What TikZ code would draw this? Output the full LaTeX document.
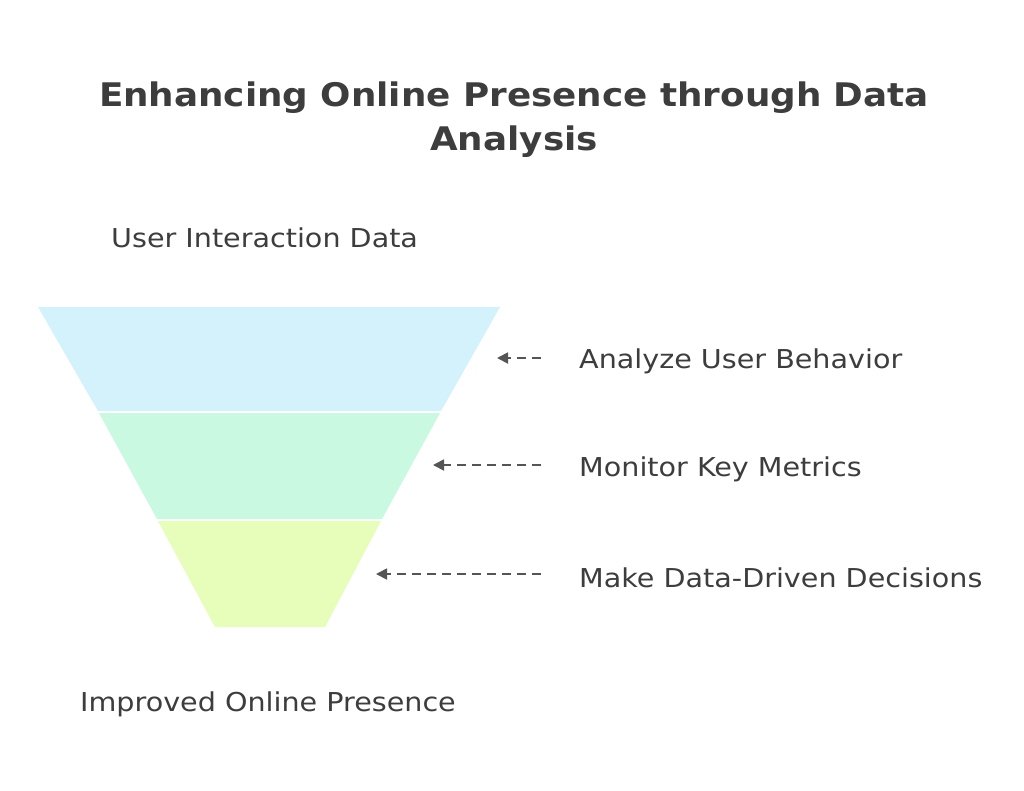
\documentclass[tikz,border=0pt]{standalone}
\usepackage{fontspec}
\setmainfont{DejaVu Sans}[FakeStretch=1.1]
\usetikzlibrary{arrows.meta}
\definecolor{txt}{HTML}{3D3D3D}
\definecolor{arr}{HTML}{555555}
\definecolor{cA}{HTML}{D3F2FC}
\definecolor{cB}{HTML}{C9F9E0}
\definecolor{cC}{HTML}{E7FDBA}
\tikzset{
  lbl/.style={anchor=west,text=txt,font=\fontsize{26}{30}\selectfont,inner sep=0pt},
  conn/.style={draw=arr,line width=1.8pt,dash pattern=on 9pt off 6pt,-{Triangle[length=11pt,width=11pt]}}
}
\begin{document}
\begin{tikzpicture}[x=1pt,y=-1pt]
\useasboundingbox (0,0) rectangle (1024,790);
\fill[white] (0,0) rectangle (1024,790);
\node[text=txt,align=center,font=\bfseries\fontsize{32.5}{44}\selectfont] (title) at (514,120) {Enhancing Online Presence through Data\\Analysis};
\node[lbl] (top) at (111,238) {User Interaction Data};
\node[lbl] (bot) at (80,704) {Improved Online Presence};
\fill[cA] (38,307) -- (500,307) -- (441,411) -- (98,411) -- cycle;
\fill[cB] (99,413) -- (440,413) -- (382,519) -- (157,519) -- cycle;
\fill[cC] (158,521) -- (381,521) -- (325,627) -- (215,627) -- cycle;
\coordinate (a1) at (497,358);
\coordinate (a2) at (433,465);
\coordinate (a3) at (376,574);
\node[lbl] (l1) at (579,361) {Analyze User Behavior};
\node[lbl] (l2) at (579,469) {Monitor Key Metrics};
\node[lbl] (l3) at (579,578) {Make Data-Driven Decisions};
\draw[conn] (541,358) -- (a1);
\draw[conn] (541,465) -- (a2);
\draw[conn] (541,574) -- (a3);
\end{tikzpicture}
\end{document}
